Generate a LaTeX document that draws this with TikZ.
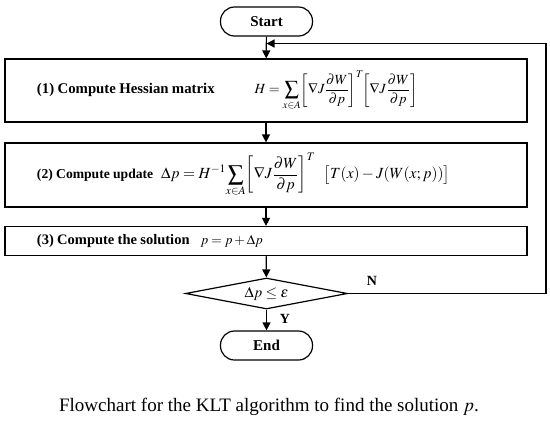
\documentclass[tikz,border=0pt]{standalone}
\usepackage{mathptmx}
\usepackage{fontspec}
\setmainfont{Liberation Serif}
\usetikzlibrary{shapes.geometric,arrows.meta}
\newcommand{\fs}[1]{\fontsize{#1}{#1}\selectfont}
\tikzset{
  term/.style={draw, line width=1.2pt, rounded corners=14pt, minimum width=92pt, minimum height=29pt, inner sep=0pt, font=\fs{15}\bfseries},
  procbox/.style={draw, line width=1.2pt, minimum width=522pt, text width=458pt, inner xsep=32pt, inner ysep=0pt, align=left},
  decide/.style={draw, line width=1.2pt, diamond, aspect=5.2, minimum width=162pt, minimum height=31pt, inner sep=0pt, font=\fs{15}},
  flow/.style={line width=1.2pt, -{Triangle[length=8pt,width=8pt]}},
  lbl/.style={font=\fs{14}\bfseries, inner sep=0pt}
}
\begin{document}
\begin{tikzpicture}[x=1pt,y=-1pt]
\useasboundingbox (0,0) rectangle (550,429);
\node[term] (start) at (266.5,21.5) {Start};
\node[procbox, minimum height=63pt] (b1) at (266,90.5) {\fs{14.8}\textbf{(1) Compute Hessian matrix}\hspace{40pt}\fs{14}$\displaystyle H=\sum_{x\in A}\!\left[\nabla J\frac{\partial W}{\partial p}\right]^{T}\!\!\left[\nabla J\frac{\partial W}{\partial p}\right]$};
\node[procbox, minimum height=64pt] (b2) at (266,175) {\fs{13.6}\textbf{(2) Compute update}\hspace{8pt}\fs{15.5}$\displaystyle \Delta p=H^{-1}\!\sum_{x\in A}\!\left[\nabla J\frac{\partial W}{\partial p}\right]^{T}\;\;\bigl[T(x)-J(W(x;p))\bigr]$};
\node[procbox, minimum height=29pt] (b3) at (266,241) {\fs{14.5}\textbf{(3) Compute the solution}\hspace{11pt}\fs{13.5}$p=p+\Delta p$};
\node[decide] (dec) at (266.5,293.5) {$\Delta p\le\varepsilon$};
\node[term] (end) at (266.5,345.5) {End};
\coordinate (loopR) at (546,293.5);
\coordinate (loopT) at (546,43.5);
\coordinate (loopIn) at (266.5,43.5);
\draw[flow] (start) -- (b1);
\draw[flow] (b1) -- (b2);
\draw[flow] (b2) -- (b3);
\draw[flow] (b3) -- (dec);
\draw[flow] (dec) -- (end);
\draw[flow] (dec.east) -- (loopR) -- (loopT) -- (loopIn);
\node[lbl] (n) at (372,281) {N};
\node[lbl] (y) at (285,319) {Y};
\node[font=\fs{19}] (cap) at (269,407) {Flowchart for the KLT algorithm to find the solution $p$.};
\end{tikzpicture}
\end{document}
